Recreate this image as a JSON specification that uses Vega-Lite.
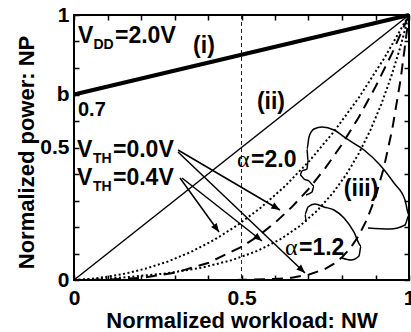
{
  "$schema": "https://vega.github.io/schema/vega-lite/v6.json",
  "width": 335,
  "height": 265,
  "autosize": "none",
  "padding": {"left": 74, "top": 15, "right": 2, "bottom": 52},
  "background": "white",
  "config": {
    "font": "Liberation Sans",
    "view": {"stroke": "black", "strokeWidth": 2},
    "axis": {"grid": false, "domain": false, "labelFlush": false, "labelColor": "black", "titleColor": "black", "tickColor": "black"}
  },
  "datasets": {
    "curves": [
      {"curve": "i", "x": 0, "y": 0.7}, {"curve": "i", "x": 1, "y": 1},
      {"curve": "ii", "x": 0, "y": 0}, {"curve": "ii", "x": 1, "y": 1},
      {"curve": "vth0_a2", "x": 0, "y": 0}, {"curve": "vth0_a2", "x": 0.1, "y": 0.001}, {"curve": "vth0_a2", "x": 0.2, "y": 0.008}, {"curve": "vth0_a2", "x": 0.3, "y": 0.027}, {"curve": "vth0_a2", "x": 0.4, "y": 0.064}, {"curve": "vth0_a2", "x": 0.5, "y": 0.125}, {"curve": "vth0_a2", "x": 0.55, "y": 0.166}, {"curve": "vth0_a2", "x": 0.6, "y": 0.216}, {"curve": "vth0_a2", "x": 0.65, "y": 0.275}, {"curve": "vth0_a2", "x": 0.7, "y": 0.343}, {"curve": "vth0_a2", "x": 0.75, "y": 0.422}, {"curve": "vth0_a2", "x": 0.8, "y": 0.512}, {"curve": "vth0_a2", "x": 0.85, "y": 0.614}, {"curve": "vth0_a2", "x": 0.9, "y": 0.729}, {"curve": "vth0_a2", "x": 0.95, "y": 0.857}, {"curve": "vth0_a2", "x": 1, "y": 1},
      {"curve": "vth0_a12", "x": 0, "y": 0}, {"curve": "vth0_a12", "x": 0.4, "y": 0}, {"curve": "vth0_a12", "x": 0.5, "y": 0.0005}, {"curve": "vth0_a12", "x": 0.6, "y": 0.0036}, {"curve": "vth0_a12", "x": 0.65, "y": 0.0088}, {"curve": "vth0_a12", "x": 0.7, "y": 0.0198}, {"curve": "vth0_a12", "x": 0.75, "y": 0.0422}, {"curve": "vth0_a12", "x": 0.775, "y": 0.0606}, {"curve": "vth0_a12", "x": 0.8, "y": 0.0859}, {"curve": "vth0_a12", "x": 0.825, "y": 0.1205}, {"curve": "vth0_a12", "x": 0.85, "y": 0.1673}, {"curve": "vth0_a12", "x": 0.875, "y": 0.2302}, {"curve": "vth0_a12", "x": 0.9, "y": 0.3138}, {"curve": "vth0_a12", "x": 0.925, "y": 0.4242}, {"curve": "vth0_a12", "x": 0.95, "y": 0.5688}, {"curve": "vth0_a12", "x": 0.975, "y": 0.757}, {"curve": "vth0_a12", "x": 1, "y": 1},
      {"curve": "vth04_a2", "x": 0, "y": 0}, {"curve": "vth04_a2", "x": 0.0156, "y": 0.001}, {"curve": "vth04_a2", "x": 0.0521, "y": 0.0047}, {"curve": "vth04_a2", "x": 0.1005, "y": 0.0123}, {"curve": "vth04_a2", "x": 0.1563, "y": 0.025}, {"curve": "vth04_a2", "x": 0.217, "y": 0.044}, {"curve": "vth04_a2", "x": 0.2813, "y": 0.0703}, {"curve": "vth04_a2", "x": 0.348, "y": 0.1053}, {"curve": "vth04_a2", "x": 0.4167, "y": 0.15}, {"curve": "vth04_a2", "x": 0.4868, "y": 0.2057}, {"curve": "vth04_a2", "x": 0.558, "y": 0.2734}, {"curve": "vth04_a2", "x": 0.6302, "y": 0.3545}, {"curve": "vth04_a2", "x": 0.7031, "y": 0.45}, {"curve": "vth04_a2", "x": 0.7767, "y": 0.5611}, {"curve": "vth04_a2", "x": 0.8507, "y": 0.6891}, {"curve": "vth04_a2", "x": 0.9252, "y": 0.835}, {"curve": "vth04_a2", "x": 1, "y": 1},
      {"curve": "vth04_a12", "x": 0, "y": 0}, {"curve": "vth04_a12", "x": 0.0248, "y": 0.0011}, {"curve": "vth04_a12", "x": 0.0695, "y": 0.0035}, {"curve": "vth04_a12", "x": 0.1436, "y": 0.009}, {"curve": "vth04_a12", "x": 0.275, "y": 0.0248}, {"curve": "vth04_a12", "x": 0.3833, "y": 0.047}, {"curve": "vth04_a12", "x": 0.4736, "y": 0.0758}, {"curve": "vth04_a12", "x": 0.5503, "y": 0.1114}, {"curve": "vth04_a12", "x": 0.6164, "y": 0.1541}, {"curve": "vth04_a12", "x": 0.6742, "y": 0.2039}, {"curve": "vth04_a12", "x": 0.7255, "y": 0.2612}, {"curve": "vth04_a12", "x": 0.7713, "y": 0.3259}, {"curve": "vth04_a12", "x": 0.8127, "y": 0.3982}, {"curve": "vth04_a12", "x": 0.8505, "y": 0.4784}, {"curve": "vth04_a12", "x": 0.8851, "y": 0.5665}, {"curve": "vth04_a12", "x": 0.917, "y": 0.6625}, {"curve": "vth04_a12", "x": 0.9466, "y": 0.7667}, {"curve": "vth04_a12", "x": 0.9742, "y": 0.8792}, {"curve": "vth04_a12", "x": 1, "y": 1}
    ],
    "loops": [
      {"loop": "a2", "k": 1, "x": 0.6925, "y": 0.3208}, {"loop": "a2", "k": 2, "x": 0.7104, "y": 0.3321}, {"loop": "a2", "k": 3, "x": 0.7164, "y": 0.3547}, {"loop": "a2", "k": 4, "x": 0.7015, "y": 0.3736}, {"loop": "a2", "k": 5, "x": 0.6866, "y": 0.3811}, {"loop": "a2", "k": 6, "x": 0.6746, "y": 0.3962}, {"loop": "a2", "k": 7, "x": 0.6806, "y": 0.4113}, {"loop": "a2", "k": 8, "x": 0.6955, "y": 0.4189}, {"loop": "a2", "k": 9, "x": 0.6985, "y": 0.4491}, {"loop": "a2", "k": 10, "x": 0.6955, "y": 0.4943}, {"loop": "a2", "k": 11, "x": 0.7015, "y": 0.5396}, {"loop": "a2", "k": 12, "x": 0.7164, "y": 0.5698}, {"loop": "a2", "k": 13, "x": 0.7403, "y": 0.5774}, {"loop": "a2", "k": 14, "x": 0.7761, "y": 0.566}, {"loop": "a2", "k": 15, "x": 0.8149, "y": 0.5321}, {"loop": "a2", "k": 16, "x": 0.8657, "y": 0.4906}, {"loop": "a2", "k": 17, "x": 0.9134, "y": 0.434}, {"loop": "a2", "k": 18, "x": 0.9552, "y": 0.366}, {"loop": "a2", "k": 19, "x": 0.9881, "y": 0.3019}, {"loop": "a2", "k": 20, "x": 1.0, "y": 0.2453}, {"loop": "a2", "k": 21, "x": 0.9881, "y": 0.2075}, {"loop": "a2", "k": 22, "x": 0.9433, "y": 0.1925}, {"loop": "a2", "k": 23, "x": 0.8776, "y": 0.1962},
      {"loop": "a12", "k": 1, "x": 0.6925, "y": 0.2189}, {"loop": "a12", "k": 2, "x": 0.6896, "y": 0.2491}, {"loop": "a12", "k": 3, "x": 0.6985, "y": 0.2755}, {"loop": "a12", "k": 4, "x": 0.7194, "y": 0.2868}, {"loop": "a12", "k": 5, "x": 0.7463, "y": 0.2755}, {"loop": "a12", "k": 6, "x": 0.7761, "y": 0.2642}, {"loop": "a12", "k": 7, "x": 0.806, "y": 0.234}, {"loop": "a12", "k": 8, "x": 0.8358, "y": 0.1811}, {"loop": "a12", "k": 9, "x": 0.8567, "y": 0.1283}, {"loop": "a12", "k": 10, "x": 0.8507, "y": 0.0906}, {"loop": "a12", "k": 11, "x": 0.8269, "y": 0.0755}, {"loop": "a12", "k": 12, "x": 0.8, "y": 0.083}
    ],
    "arrows": [
      {"x": 0.3104, "y": 0.4906, "x2": 0.6149, "y2": 0.2642, "dir": 30.5},
      {"x": 0.3104, "y": 0.483, "x2": 0.6896, "y2": 0.0264, "dir": 43.6},
      {"x": 0.3164, "y": 0.3849, "x2": 0.4328, "y2": 0.1811, "dir": 54.2},
      {"x": 0.3224, "y": 0.3849, "x2": 0.5612, "y2": 0.1472, "dir": 38.2}
    ],
    "bigText": [
      {"t": "V", "x": 0.0119, "y": 0.8943},
      {"t": "=2.0V", "x": 0.1224, "y": 0.8943},
      {"t": "V", "x": 0.009, "y": 0.4642},
      {"t": "=0.0V", "x": 0.1164, "y": 0.4642},
      {"t": "V", "x": 0.009, "y": 0.3585},
      {"t": "=0.4V", "x": 0.1164, "y": 0.3585},
      {"t": "=2.0", "x": 0.5284, "y": 0.4264},
      {"t": "=1.2", "x": 0.6716, "y": 0.0943}
    ],
    "midText": [
      {"t": "0.7", "x": 0.0119, "y": 0.6189}
    ],
    "subText": [
      {"t": "DD", "x": 0.0582, "y": 0.8717},
      {"t": "TH", "x": 0.0567, "y": 0.4415},
      {"t": "TH", "x": 0.0567, "y": 0.3358}
    ],
    "alphaText": [
      {"t": "α", "x": 0.4866, "y": 0.4264},
      {"t": "α", "x": 0.6299, "y": 0.0943}
    ],
    "tags": [
      {"t": "(i)", "x": 0.388, "y": 0.883},
      {"t": "(ii)", "x": 0.588, "y": 0.67},
      {"t": "(iii)", "x": 0.857, "y": 0.343}
    ],
    "marker": [{"x": 0.5}]
  },
  "resolve": {"axis": {"x": "independent", "y": "independent"}},
  "layer": [
    {
      "data": {"name": "marker"},
      "mark": {"type": "rule", "stroke": "#222", "strokeWidth": 1, "strokeDash": [4, 3]},
      "encoding": {
        "x": {"field": "x", "type": "quantitative", "scale": {"domain": [0, 1], "nice": false},
          "axis": {"orient": "bottom", "values": [0, 0.1, 0.2, 0.3, 0.4, 0.5, 0.6, 0.7, 0.8, 0.9, 1],
            "labelExpr": "datum.value == 0 ? '0' : datum.value == 0.5 ? '0.5' : datum.value == 1 ? '1' : ''",
            "tickSize": -5, "tickWidth": 1.5, "labelFontSize": 21, "labelFontWeight": "bold", "labelPadding": 12,
            "title": "Normalized workload: NW", "titleFontSize": 22, "titleFontWeight": "bold",
            "titleBaseline": "alphabetic", "titleY": 47}}
      }
    },
    {
      "data": {"name": "curves"},
      "transform": [{"filter": "datum.curve == 'i'"}],
      "mark": {"type": "line", "stroke": "black", "strokeWidth": 4},
      "encoding": {
        "x": {"field": "x", "type": "quantitative", "scale": {"domain": [0, 1], "nice": false},
          "axis": {"orient": "top", "values": [0, 0.1, 0.2, 0.3, 0.4, 0.5, 0.6, 0.7, 0.8, 0.9, 1], "labels": false, "tickSize": -5, "tickWidth": 1.5, "title": null}},
        "y": {"field": "y", "type": "quantitative", "scale": {"domain": [0, 1], "nice": false},
          "axis": {"orient": "left", "values": [0, 0.1, 0.2, 0.3, 0.4, 0.5, 0.6, 0.7, 0.8, 0.9, 1],
            "labelExpr": "datum.value == 0 ? '0' : datum.value == 0.5 ? '0.5' : datum.value == 0.7 ? 'b' : datum.value == 1 ? '1' : ''",
            "tickSize": -5, "tickWidth": 1.5, "labelFontSize": 21, "labelFontWeight": "bold", "labelPadding": 10,
            "title": "Normalized power: NP", "titleFontSize": 22, "titleFontWeight": "bold",
            "titleBaseline": "alphabetic", "titleX": -41, "titleY": 137}}
      }
    },
    {
      "data": {"name": "curves"},
      "transform": [{"filter": "datum.curve == 'ii'"}],
      "mark": {"type": "line", "stroke": "black", "strokeWidth": 1.5},
      "encoding": {
        "x": {"field": "x", "type": "quantitative", "axis": null},
        "y": {"field": "y", "type": "quantitative",
          "axis": {"orient": "right", "values": [0, 0.1, 0.2, 0.3, 0.4, 0.5, 0.6, 0.7, 0.8, 0.9, 1], "labels": false, "tickSize": -5, "tickWidth": 1.5, "title": null}}
      }
    },
    {
      "data": {"name": "curves"},
      "transform": [{"filter": "datum.curve == 'vth0_a2' || datum.curve == 'vth0_a12'"}],
      "mark": {"type": "line", "stroke": "black", "strokeWidth": 2, "strokeDash": [11, 7]},
      "encoding": {
        "x": {"field": "x", "type": "quantitative", "axis": null},
        "y": {"field": "y", "type": "quantitative", "axis": null},
        "detail": {"field": "curve"}
      }
    },
    {
      "data": {"name": "curves"},
      "transform": [{"filter": "datum.curve == 'vth04_a2' || datum.curve == 'vth04_a12'"}],
      "mark": {"type": "line", "stroke": "black", "strokeWidth": 2, "strokeDash": [2, 2.5]},
      "encoding": {
        "x": {"field": "x", "type": "quantitative", "axis": null},
        "y": {"field": "y", "type": "quantitative", "axis": null},
        "detail": {"field": "curve"}
      }
    },
    {
      "data": {"name": "loops"},
      "mark": {"type": "line", "stroke": "black", "strokeWidth": 1.5, "interpolate": "monotone"},
      "encoding": {
        "x": {"field": "x", "type": "quantitative", "axis": null},
        "y": {"field": "y", "type": "quantitative", "axis": null},
        "order": {"field": "k"},
        "detail": {"field": "loop"}
      }
    },
    {
      "data": {"name": "arrows"},
      "mark": {"type": "rule", "stroke": "black", "strokeWidth": 1.5},
      "encoding": {
        "x": {"field": "x", "type": "quantitative", "axis": null},
        "y": {"field": "y", "type": "quantitative", "axis": null},
        "x2": {"field": "x2"},
        "y2": {"field": "y2"}
      }
    },
    {
      "data": {"name": "arrows"},
      "mark": {"type": "point", "shape": "M0,0 L-1,-0.4 L-1,0.4 Z", "filled": true, "fill": "black", "stroke": null, "size": 300, "opacity": 1},
      "encoding": {
        "x": {"field": "x2", "type": "quantitative", "axis": null},
        "y": {"field": "y2", "type": "quantitative", "axis": null},
        "angle": {"field": "dir", "type": "quantitative", "scale": null}
      }
    },
    {
      "data": {"name": "bigText"},
      "mark": {"type": "text", "fontSize": 23, "fontWeight": "bold", "align": "left", "baseline": "alphabetic", "color": "black"},
      "encoding": {
        "x": {"field": "x", "type": "quantitative", "axis": null},
        "y": {"field": "y", "type": "quantitative", "axis": null},
        "text": {"field": "t"}
      }
    },
    {
      "data": {"name": "midText"},
      "mark": {"type": "text", "fontSize": 20, "fontWeight": "bold", "align": "left", "baseline": "alphabetic", "color": "black"},
      "encoding": {
        "x": {"field": "x", "type": "quantitative", "axis": null},
        "y": {"field": "y", "type": "quantitative", "axis": null},
        "text": {"field": "t"}
      }
    },
    {
      "data": {"name": "subText"},
      "mark": {"type": "text", "fontSize": 14, "fontWeight": "bold", "align": "left", "baseline": "alphabetic", "color": "black"},
      "encoding": {
        "x": {"field": "x", "type": "quantitative", "axis": null},
        "y": {"field": "y", "type": "quantitative", "axis": null},
        "text": {"field": "t"}
      }
    },
    {
      "data": {"name": "alphaText"},
      "mark": {"type": "text", "font": "Liberation Serif", "fontSize": 24, "align": "left", "baseline": "alphabetic", "color": "black"},
      "encoding": {
        "x": {"field": "x", "type": "quantitative", "axis": null},
        "y": {"field": "y", "type": "quantitative", "axis": null},
        "text": {"field": "t"}
      }
    },
    {
      "data": {"name": "tags"},
      "mark": {"type": "text", "fontSize": 23, "fontWeight": "bold", "align": "center", "baseline": "middle", "color": "black"},
      "encoding": {
        "x": {"field": "x", "type": "quantitative", "axis": null},
        "y": {"field": "y", "type": "quantitative", "axis": null},
        "text": {"field": "t"}
      }
    }
  ]
}
